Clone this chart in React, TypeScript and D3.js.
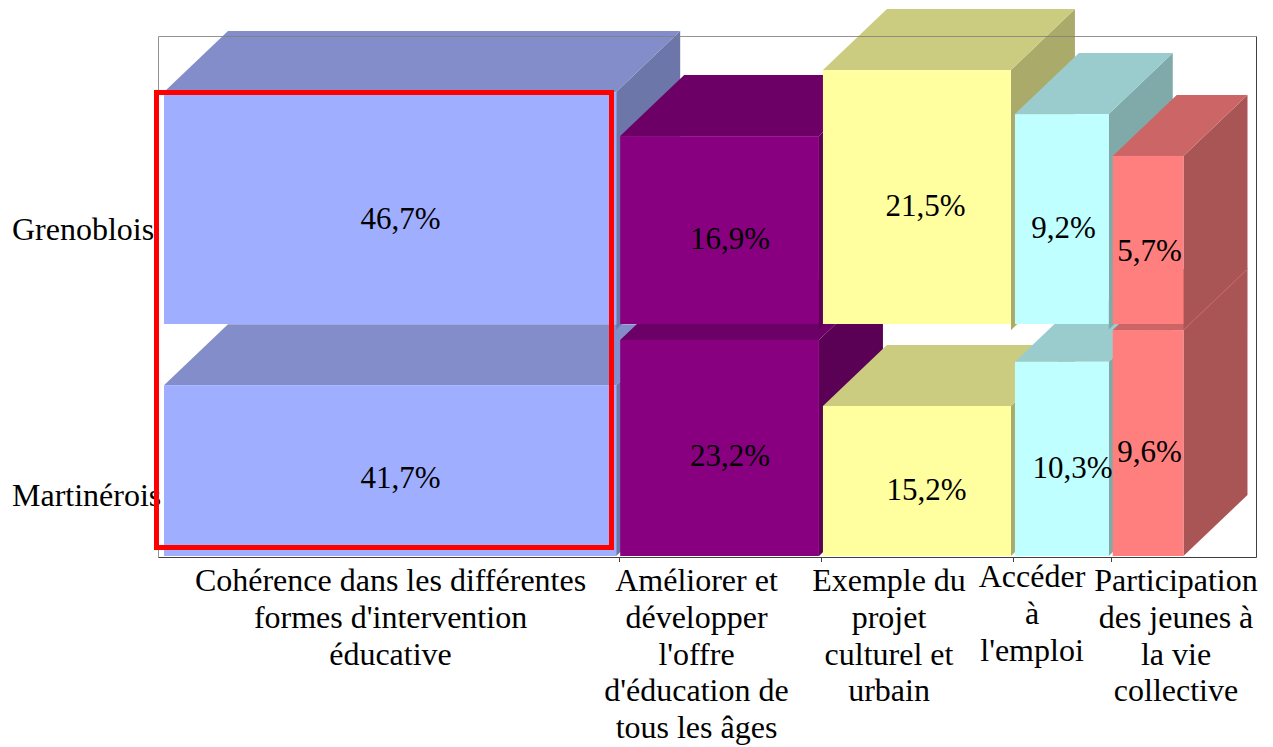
import React from "react";
import * as d3 from "d3";

const categories = [
  ["Cohérence dans les différentes", "formes d'intervention", "éducative"],
  ["Améliorer et", "développer", "l'offre", "d'éducation de", "tous les âges"],
  ["Exemple du", "projet", "culturel et", "urbain"],
  ["Accéder", "à", "l'emploi"],
  ["Participation", "des jeunes à", "la vie", "collective"],
];
const rowNames = ["Grenoblois", "Martinérois"];
const grenobloisLabels = ["46,7%", "16,9%", "21,5%", "9,2%", "5,7%"];
const martineroisLabels = ["41,7%", "23,2%", "15,2%", "10,3%", "9,6%"];
// column width weights (total 200) and within-column share of each row
const columnWeights = [89.1, 39.6, 37.5, 19.1, 14.6];
const grenobloisShare = [52.7, 42.7, 57.7, 47.7, 38.2];
const martineroisShare = [46.8, 59.2, 41.1, 53.2, 61.9];

const frontColors = ["#a0aeff", "#880080", "#ffff9f", "#bfffff", "#ff7f7f"];
const topColors = ["#828dca", "#6c0066", "#cccc80", "#9bcccd", "#cc6666"];
const sideColors = ["#6c76a8", "#5a0055", "#aaaa6a", "#80aaaa", "#aa5555"];

// layout
const DX = 64, DY = 61, GAP = 4;
const FONT = "'Liberation Serif', 'Times New Roman', serif";
const FS = 32;
const VALUE_FS = 31;
const LINE = 36.8;
const topRowBase = 324, bottomRowBase = 556;
const frame = { x0: 158, y0: 36, x1: 1256, y1: 557 };
const catLabelX = [390.5, 696.5, 889, 1032, 1176];
const catLabelY = [591, 591, 591, 587, 591];
const gLabelPos = [[400.5, 219], [730, 239], [925.5, 206], [1063.5, 228], [1149.5, 251]];
const mLabelPos = [[400.5, 478], [730, 456], [926.5, 490], [1072.5, 468], [1149.5, 452]];

const xScale = d3.scaleLinear().domain([0, 200]).range([164, 1188]);
const yTop = d3.scaleLinear().domain([0, 100]).range([topRowBase, topRowBase - 440]);
const yBottom = d3.scaleLinear().domain([0, 100]).range([bottomRowBase, bottomRowBase - 365]);
const poly = d3.line<number[]>().x((d) => d[0]).y((d) => d[1]).curve(d3.curveLinearClosed);
const cumulative = [0, ...d3.cumsum(columnWeights)];

function Box({ i, top, base, sideBase, seam }: { i: number; top: number; base: number; sideBase: number; seam?: boolean }) {
  const x0 = xScale(cumulative[i]);
  const x1 = xScale(cumulative[i + 1]) - GAP;
  return (
    <g>
      <path d={poly([[x1, top], [x1 + DX, top - DY], [x1 + DX, sideBase - DY], [x1, sideBase]])!} fill={sideColors[i]} />
      {seam && <line x1={x1} y1={sideBase} x2={x1 + DX} y2={sideBase - DY} stroke={topColors[i]} strokeWidth={1} />}
      <path d={poly([[x0, top], [x1, top], [x1 + DX, top - DY], [x0 + DX, top - DY]])!} fill={topColors[i]} />
      <rect x={x0} y={top} width={x1 - x0} height={base - top} fill={frontColors[i]} />
    </g>
  );
}

function Lines({ lines, x, y }: { lines: string[]; x: number; y: number }) {
  return (
    <text textAnchor="middle" fontFamily={FONT} fontSize={FS} fill="#000">
      {lines.map((l, k) => (
        <tspan key={k} x={x} y={y + k * LINE}>{l}</tspan>
      ))}
    </text>
  );
}

export default function App() {
  return (
    <svg width={1273} height={747} style={{ position: "absolute", left: 0, top: 0, background: "#fff" }}>
      {columnWeights.map((_, i) => (
        <Box key={"m" + i} i={i} top={yBottom(martineroisShare[i])} base={bottomRowBase} sideBase={bottomRowBase} />
      ))}
      {columnWeights.map((_, i) => (
        <Box key={"g" + i} i={i} top={yTop(grenobloisShare[i])} base={topRowBase} sideBase={330} seam />
      ))}
      <path d={`M${frame.x0 + 0.5},${frame.y1 + 0.5}V${frame.y0 + 0.5}H${frame.x1 + 0.5}`} fill="none" stroke="#808080" strokeOpacity={0.85} />
      <path d={`M${frame.x1 + 0.5},${frame.y0 + 0.5}V${frame.y1 + 0.5}H${frame.x0 + 0.5}`} fill="none" stroke="#404040" />
      {cumulative.slice(1, 5).map((c, i) => {
        const x = Math.round(xScale(c) - 1.5) + 0.5;
        return <line key={i} x1={x} x2={x} y1={frame.y1} y2={frame.y1 + 5} stroke="#404040" />;
      })}
      {grenobloisLabels.map((t, i) => (
        <text key={t} x={gLabelPos[i][0]} y={gLabelPos[i][1] + 10} textAnchor="middle" fontFamily={FONT} fontSize={VALUE_FS}>{t}</text>
      ))}
      {martineroisLabels.map((t, i) => (
        <text key={t} x={mLabelPos[i][0]} y={mLabelPos[i][1] + 10} textAnchor="middle" fontFamily={FONT} fontSize={VALUE_FS}>{t}</text>
      ))}
      <text x={12} y={240} fontFamily={FONT} fontSize={FS}>{rowNames[0]}</text>
      <text x={12} y={506} fontFamily={FONT} fontSize={FS}>{rowNames[1]}</text>
      {categories.map((lines, i) => (
        <Lines key={i} lines={lines} x={catLabelX[i]} y={catLabelY[i]} />
      ))}
      <rect x={156.5} y={92.5} width={455} height={455} fill="none" stroke="#ff0000" strokeWidth={5} />
    </svg>
  );
}
